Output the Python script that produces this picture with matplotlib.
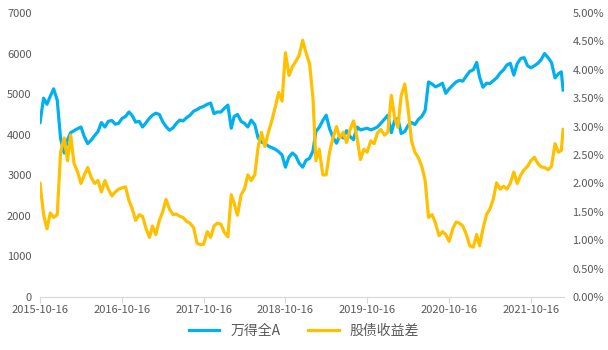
import matplotlib
matplotlib.use("Agg")
import matplotlib.pyplot as plt
import matplotlib.dates as mdates
import pandas as pd

plt.rcParams['font.family'] = ['Noto Sans CJK SC', 'DejaVu Sans']

# half-monthly readings, 2015-10-16 .. 2022-03
dates = [
    "2015-10-16", "2015-11-01", "2015-11-16", "2015-12-01", "2015-12-16",
    "2016-01-01", "2016-01-16", "2016-02-01", "2016-02-16", "2016-03-01",
    "2016-03-16", "2016-04-01", "2016-04-16", "2016-05-01", "2016-05-16",
    "2016-06-01", "2016-06-16", "2016-07-01", "2016-07-16", "2016-08-01",
    "2016-08-16", "2016-09-01", "2016-09-16", "2016-10-01", "2016-10-16",
    "2016-11-01", "2016-11-16", "2016-12-01", "2016-12-16", "2017-01-01",
    "2017-01-16", "2017-02-01", "2017-02-16", "2017-03-01", "2017-03-16",
    "2017-04-01", "2017-04-16", "2017-05-01", "2017-05-16", "2017-06-01",
    "2017-06-16", "2017-07-01", "2017-07-16", "2017-08-01", "2017-08-16",
    "2017-09-01", "2017-09-16", "2017-10-01", "2017-10-16", "2017-11-01",
    "2017-11-16", "2017-12-01", "2017-12-16", "2018-01-01", "2018-01-16",
    "2018-02-01", "2018-02-16", "2018-03-01", "2018-03-16", "2018-04-01",
    "2018-04-16", "2018-05-01", "2018-05-16", "2018-06-01", "2018-06-16",
    "2018-07-01", "2018-07-16", "2018-08-01", "2018-08-16", "2018-09-01",
    "2018-09-16", "2018-10-01", "2018-10-16", "2018-11-01", "2018-11-16",
    "2018-12-01", "2018-12-16", "2019-01-01", "2019-01-16", "2019-02-01",
    "2019-02-16", "2019-03-01", "2019-03-16", "2019-04-01", "2019-04-16",
    "2019-05-01", "2019-05-16", "2019-06-01", "2019-06-16", "2019-07-01",
    "2019-07-16", "2019-08-01", "2019-08-16", "2019-09-01", "2019-09-16",
    "2019-10-01", "2019-10-16", "2019-11-01", "2019-11-16", "2019-12-01",
    "2019-12-16", "2020-01-01", "2020-01-16", "2020-02-01", "2020-02-16",
    "2020-03-01", "2020-03-16", "2020-04-01", "2020-04-16", "2020-05-01",
    "2020-05-16", "2020-06-01", "2020-06-16", "2020-07-01", "2020-07-16",
    "2020-08-01", "2020-08-16", "2020-09-01", "2020-09-16", "2020-10-01",
    "2020-10-16", "2020-11-01", "2020-11-16", "2020-12-01", "2020-12-16",
    "2021-01-01", "2021-01-16", "2021-02-01", "2021-02-16", "2021-03-01",
    "2021-03-16", "2021-04-01", "2021-04-16", "2021-05-01", "2021-05-16",
    "2021-06-01", "2021-06-16", "2021-07-01", "2021-07-16", "2021-08-01",
    "2021-08-16", "2021-09-01", "2021-09-16", "2021-10-01", "2021-10-16",
    "2021-11-01", "2021-11-16", "2021-12-01", "2021-12-16", "2022-01-01",
    "2022-01-16", "2022-02-01", "2022-02-16", "2022-03-01", "2022-03-09",
]

wind_a = [
    4300, 4900, 4750, 4950, 5130,
    4850, 3900, 3550, 3880, 4050,
    4100, 4150, 4190, 3950, 3780,
    3870, 3980, 4080, 4300, 4190,
    4330, 4350, 4260, 4280, 4400,
    4450, 4560, 4470, 4310, 4330,
    4190, 4300, 4410, 4480, 4530,
    4500, 4320, 4200, 4110, 4170,
    4280, 4360, 4340, 4420, 4480,
    4580, 4620, 4670, 4700, 4750,
    4780, 4520, 4560, 4560, 4650,
    4730, 4160, 4450, 4500, 4330,
    4280, 4190, 4360, 4250, 3920,
    3820, 3780, 3720, 3680, 3640,
    3580, 3500, 3200, 3450, 3550,
    3480, 3300, 3200, 3370, 3420,
    3600, 4080, 4180, 4350, 4480,
    4150, 3940, 3790, 3980, 3920,
    4100, 3950, 3880, 4190, 4120,
    4140, 4160, 4120, 4150, 4190,
    4280, 4380, 4480, 4050, 4360,
    4400, 4030, 4080, 4230, 4300,
    4250, 4380, 4450, 4600, 5300,
    5250, 5180, 5220, 5270, 5020,
    5130, 5220, 5300, 5340, 5320,
    5450, 5560, 5600, 5780, 5420,
    5170, 5270, 5260, 5330, 5400,
    5520, 5600, 5720, 5760, 5470,
    5750, 5880, 5900, 5700, 5650,
    5700, 5760, 5850, 6000, 5900,
    5780, 5400, 5500, 5550, 5100,
]

# 股债收益差, percent
spread = [
    2.00, 1.45, 1.20, 1.48, 1.40,
    1.45, 2.55, 2.80, 2.40, 2.85,
    2.35, 2.20, 2.00, 2.15, 2.28,
    2.10, 2.00, 2.05, 1.85, 2.05,
    1.90, 1.78, 1.85, 1.90, 1.92,
    1.94, 1.70, 1.55, 1.35, 1.45,
    1.42, 1.20, 1.05, 1.25, 1.10,
    1.35, 1.50, 1.72, 1.55, 1.45,
    1.46, 1.42, 1.40, 1.33, 1.30,
    1.22, 0.95, 0.92, 0.93, 1.15,
    1.05, 1.25, 1.30, 1.28, 1.14,
    1.06, 1.80, 1.65, 1.44, 1.80,
    1.90, 2.15, 2.05, 2.15, 2.64,
    2.90, 2.65, 2.90, 3.10, 3.35,
    3.60, 3.45, 4.30, 3.90, 4.05,
    4.15, 4.25, 4.52, 4.30, 4.10,
    3.50, 2.40, 2.60, 2.15, 2.15,
    2.55, 2.80, 3.00, 2.80, 2.90,
    2.72, 2.95, 3.10, 2.80, 2.42,
    2.60, 2.55, 2.75, 2.70, 2.89,
    2.95, 2.85, 2.90, 3.55, 3.15,
    2.99, 3.55, 3.75, 3.30, 2.75,
    2.55, 2.45, 2.30, 2.05, 1.40,
    1.45, 1.30, 1.08, 1.15, 1.10,
    0.98, 1.20, 1.32, 1.30, 1.25,
    1.10, 0.90, 0.88, 1.10, 0.90,
    1.20, 1.45, 1.55, 1.72, 2.01,
    1.90, 1.95, 1.90, 2.00, 2.20,
    2.00, 2.15, 2.24, 2.30, 2.40,
    2.46, 2.35, 2.29, 2.28, 2.24,
    2.30, 2.70, 2.55, 2.58, 2.95,
]

tick_dates = ["2015-10-16", "2016-10-16", "2017-10-16", "2018-10-16",
              "2019-10-16", "2020-10-16", "2021-10-16"]

d = pd.to_datetime(dates)
blue = "#00B0F0"
gold = "#FFC000"
txt = "#595959"

fig = plt.figure(figsize=(6.08, 3.5), dpi=100)
ax = fig.add_axes([40 / 608, 53 / 350, 524 / 608, 284 / 350])
ax2 = ax.twinx()

# orange (right axis) is drawn over the blue line
l1, = ax.plot(d, wind_a, color=blue, lw=2.3, label="万得全A")
l2, = ax2.plot(d, spread, color=gold, lw=2.3, label="股债收益差")

ax.set_ylim(0, 7000)
ax.set_yticks(range(0, 7001, 1000))
ax2.set_ylim(0, 5)
ax2.set_yticks([i * 0.5 for i in range(11)])
ax2.set_yticklabels(["%.2f%%" % (i * 0.5) for i in range(11)])

ax.set_xlim(pd.Timestamp("2015-10-16"), pd.Timestamp("2022-03-13"))
ax.set_xticks(pd.to_datetime(tick_dates))
ax.xaxis.set_major_formatter(mdates.DateFormatter("%Y-%m-%d"))

for a in (ax, ax2):
    for s in ("top", "left", "right"):
        a.spines[s].set_visible(False)
    a.spines["bottom"].set_color("#D9D9D9")
    a.tick_params(axis="y", length=0, labelsize=8, labelcolor=txt, pad=6)
ax.tick_params(axis="x", length=4, color="#D9D9D9", labelsize=8,
               labelcolor=txt, pad=2)

fig.legend(handles=[l1, l2], loc="lower center", bbox_to_anchor=(0.5, 0.0),
           ncol=2, frameon=False, fontsize=10, handlelength=2.2,
           columnspacing=2.0, labelcolor=txt)

fig.savefig("out.png", dpi=100)
